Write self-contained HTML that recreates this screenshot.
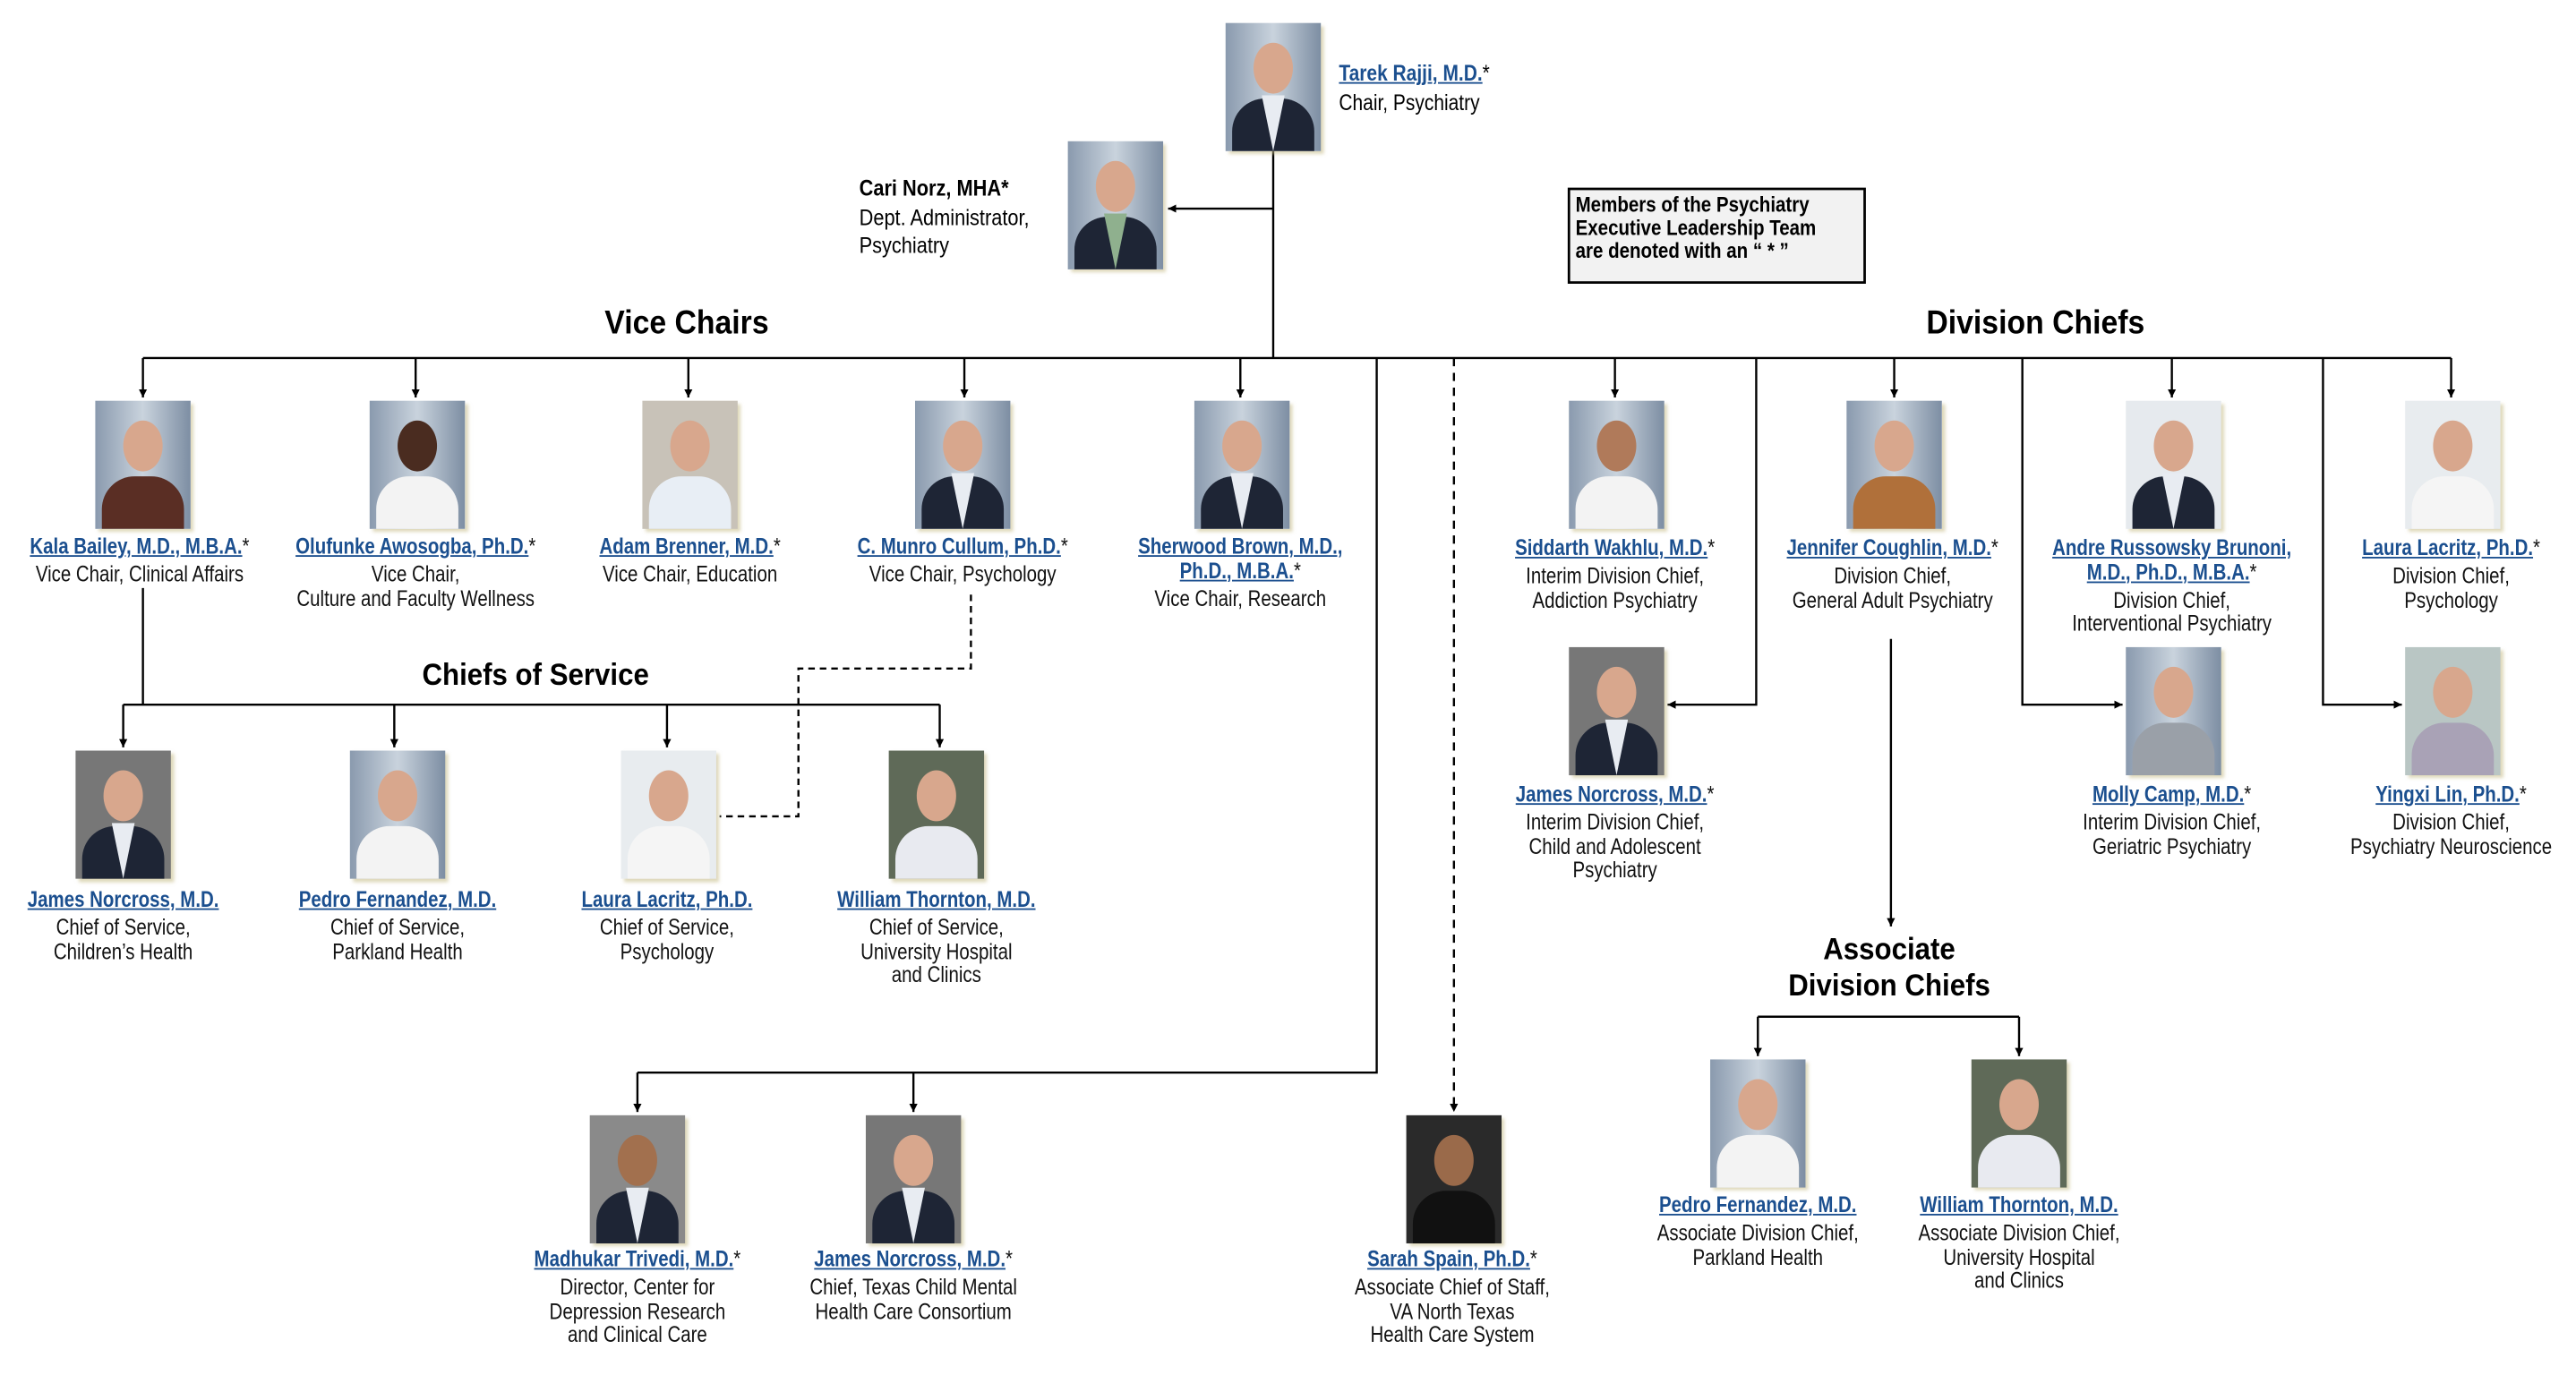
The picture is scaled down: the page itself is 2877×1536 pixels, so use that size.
<!DOCTYPE html>
<html><head><meta charset="utf-8"><style>
html,body{margin:0;padding:0;background:#fff;overflow:hidden}
#w{position:absolute;left:0;top:0;width:1568px;height:837px;transform:scale(1.83482);transform-origin:0 0;font-family:"Liberation Sans",Arial,sans-serif}
svg{position:absolute;left:0;top:0}
.p{position:absolute;width:58px;height:78px;overflow:hidden;box-shadow:2px 2px 2px rgba(200,190,140,.6);background:linear-gradient(90deg,#8a9aae,#c9d3dd 50%,#7d8ea3)}
.p .h{position:absolute;left:17px;top:12px;width:24px;height:31px;border-radius:50%;background:#d8a78d}
.p .b{position:absolute;left:4px;top:46px;width:50px;height:40px;border-radius:20px 20px 0 0;background:#1e2535}
.p .s{position:absolute;left:22px;top:44px;width:14px;height:34px;background:#e8ecf2;clip-path:polygon(0 0,100% 0,50% 100%)}
.t{position:absolute;transform:translateX(-50%) scaleX(.82);white-space:nowrap;text-align:center;font-size:13.6px;line-height:14.6px;color:#111}
.n{color:#1b4f8f;font-weight:bold;text-decoration:underline}
.g{display:block;height:2.5px}
.hd{position:absolute;transform:translateX(-50%) scaleX(.92);font-weight:bold;white-space:nowrap;text-align:center;color:#000}
</style></head><body><div id="w">
<svg width="1568" height="837" viewBox="0 0 1568 837">
<defs><marker id="a" markerWidth="6" markerHeight="6" refX="5" refY="3" orient="auto" markerUnits="userSpaceOnUse"><path d="M0,0.5 L5,3 L0,5.5z" fill="#000"/></marker></defs>
<g stroke="#000" stroke-width="1.3" fill="none">
<path d="M775,92V218"/>
<path d="M775,127H711" marker-end="url(#a)"/>
<path d="M87,218H1492"/>
<path d="M87,218V242" marker-end="url(#a)"/><path d="M253,218V242" marker-end="url(#a)"/><path d="M419,218V242" marker-end="url(#a)"/><path d="M587,218V242" marker-end="url(#a)"/><path d="M755,218V242" marker-end="url(#a)"/>
<path d="M983,218V242" marker-end="url(#a)"/><path d="M1153,218V242" marker-end="url(#a)"/><path d="M1322,218V242" marker-end="url(#a)"/><path d="M1492,218V242" marker-end="url(#a)"/>
<path d="M838,218V653H388"/><path d="M388,653V677" marker-end="url(#a)"/><path d="M556,653V677" marker-end="url(#a)"/>
<path d="M885,218V677" stroke-dasharray="5,4" marker-end="url(#a)"/>
<path d="M1069,218V429H1015" marker-end="url(#a)"/>
<path d="M1231,218V429H1292" marker-end="url(#a)"/>
<path d="M1414,218V429H1462" marker-end="url(#a)"/>
<path d="M1151,389V564" marker-end="url(#a)"/>
<path d="M1070,619H1229"/><path d="M1070,619V643" marker-end="url(#a)"/><path d="M1229,619V643" marker-end="url(#a)"/>
<path d="M87,358V429"/><path d="M75,429H572"/>
<path d="M75,429V455" marker-end="url(#a)"/><path d="M240,429V455" marker-end="url(#a)"/><path d="M406,429V455" marker-end="url(#a)"/><path d="M572,429V455" marker-end="url(#a)"/>
<path d="M591,362V407H486V497H438" stroke-dasharray="4,3"/>
</g>
<rect x="955" y="115" width="180" height="57" fill="#f2f2f2" stroke="#000" stroke-width="1.5"/>
</svg>

<div style="position:absolute;left:959px;top:118px;font-size:13px;line-height:14px;font-weight:bold;transform:scaleX(.86);transform-origin:0 0;white-space:nowrap">Members of the Psychiatry<br>Executive Leadership Team<br>are denoted with an “ * ”</div>

<div class="hd" style="left:418px;top:186px;font-size:20px">Vice Chairs</div>
<div class="hd" style="left:1239px;top:186px;font-size:20px">Division Chiefs</div>
<div class="hd" style="left:326px;top:400px;font-size:18.5px">Chiefs of Service</div>
<div class="hd" style="left:1150px;top:567px;font-size:18.5px;line-height:22px">Associate<br>Division Chiefs</div>

<!-- photos -->
<div class="p" style="left:746px;top:14px"><div class="h"></div><div class="b"></div><div class="s"></div></div>
<div class="p" style="left:650px;top:86px"><div class="h"></div><div class="b"></div><div class="s" style="background:#8fb08e"></div></div>
<div class="p" style="left:58px;top:244px"><div class="h"></div><div class="b" style="background:#5a2e24"></div></div>
<div class="p" style="left:225px;top:244px"><div class="h" style="background:#4a2c20"></div><div class="b" style="background:#f3f3f3"></div></div>
<div class="p" style="left:391px;top:244px;background:#c8c2b8"><div class="h"></div><div class="b" style="background:#e8eef5"></div></div>
<div class="p" style="left:557px;top:244px"><div class="h"></div><div class="b"></div><div class="s"></div></div>
<div class="p" style="left:727px;top:244px"><div class="h"></div><div class="b"></div><div class="s"></div></div>
<div class="p" style="left:955px;top:244px"><div class="h" style="background:#b07a5a"></div><div class="b" style="background:#f3f3f3"></div></div>
<div class="p" style="left:1124px;top:244px"><div class="h"></div><div class="b" style="background:#b0703a"></div></div>
<div class="p" style="left:1294px;top:244px;background:#e6eaee"><div class="h"></div><div class="b"></div><div class="s"></div></div>
<div class="p" style="left:1464px;top:244px;background:#e8ecef"><div class="h"></div><div class="b" style="background:#f5f5f5"></div></div>
<div class="p" style="left:955px;top:394px;background:#777"><div class="h"></div><div class="b"></div><div class="s"></div></div>
<div class="p" style="left:1294px;top:394px"><div class="h"></div><div class="b" style="background:#9aa0a8"></div></div>
<div class="p" style="left:1464px;top:394px;background:#b9c6c4"><div class="h"></div><div class="b" style="background:#a9a2b6"></div></div>
<div class="p" style="left:46px;top:457px;background:#777"><div class="h"></div><div class="b"></div><div class="s"></div></div>
<div class="p" style="left:213px;top:457px"><div class="h"></div><div class="b" style="background:#f3f3f3"></div></div>
<div class="p" style="left:378px;top:457px;background:#e8ecef"><div class="h"></div><div class="b" style="background:#f5f5f5"></div></div>
<div class="p" style="left:541px;top:457px;background:#5f6a58"><div class="h"></div><div class="b" style="background:#e8eaf0"></div></div>
<div class="p" style="left:359px;top:679px;background:#8a8a8a"><div class="h" style="background:#a2704e"></div><div class="b"></div><div class="s"></div></div>
<div class="p" style="left:527px;top:679px;background:#777"><div class="h"></div><div class="b"></div><div class="s"></div></div>
<div class="p" style="left:856px;top:679px;background:#2a2a2a"><div class="h" style="background:#9a6a4a"></div><div class="b" style="background:#111"></div></div>
<div class="p" style="left:1041px;top:645px"><div class="h"></div><div class="b" style="background:#f3f3f3"></div></div>
<div class="p" style="left:1200px;top:645px;background:#5f6a58"><div class="h"></div><div class="b" style="background:#e8eaf0"></div></div>

<!-- text -->
<div style="position:absolute;left:815px;top:36px;font-size:13.6px;line-height:17.5px;transform:scaleX(.84);transform-origin:0 0;white-space:nowrap"><span class="n">Tarek Rajji, M.D.</span>*<br>Chair, Psychiatry</div>
<div style="position:absolute;left:523px;top:106px;font-size:13.8px;line-height:17.5px;transform:scaleX(.86);transform-origin:0 0;white-space:nowrap"><b>Cari Norz, MHA*</b><br>Dept. Administrator,<br>Psychiatry</div>

<div class="t" style="left:85px;top:326px"><span class="n">Kala Bailey, M.D., M.B.A.</span>*<span class="g"></span>Vice Chair, Clinical Affairs</div>
<div class="t" style="left:253px;top:326px"><span class="n">Olufunke Awosogba, Ph.D.</span>*<span class="g"></span>Vice Chair,<br>Culture and Faculty Wellness</div>
<div class="t" style="left:420px;top:326px"><span class="n">Adam Brenner, M.D.</span>*<span class="g"></span>Vice Chair, Education</div>
<div class="t" style="left:586px;top:326px"><span class="n">C. Munro Cullum, Ph.D.</span>*<span class="g"></span>Vice Chair, Psychology</div>
<div class="t" style="left:755px;top:326px"><span class="n">Sherwood Brown, M.D.,</span><br><span class="n">Ph.D., M.B.A.</span>*<span class="g"></span>Vice Chair, Research</div>

<div class="t" style="left:983px;top:327px"><span class="n">Siddarth Wakhlu, M.D.</span>*<span class="g"></span>Interim Division Chief,<br>Addiction Psychiatry</div>
<div class="t" style="left:1152px;top:327px"><span class="n">Jennifer Coughlin, M.D.</span>*<span class="g"></span>Division Chief,<br>General Adult Psychiatry</div>
<div class="t" style="left:1322px;top:327px"><span class="n">Andre Russowsky Brunoni,</span><br><span class="n">M.D., Ph.D., M.B.A.</span>*<span class="g"></span>Division Chief,<br>Interventional Psychiatry</div>
<div class="t" style="left:1492px;top:327px"><span class="n">Laura Lacritz, Ph.D.</span>*<span class="g"></span>Division Chief,<br>Psychology</div>

<div class="t" style="left:983px;top:477px"><span class="n">James Norcross, M.D.</span>*<span class="g"></span>Interim Division Chief,<br>Child and Adolescent<br>Psychiatry</div>
<div class="t" style="left:1322px;top:477px"><span class="n">Molly Camp, M.D.</span>*<span class="g"></span>Interim Division Chief,<br>Geriatric Psychiatry</div>
<div class="t" style="left:1492px;top:477px"><span class="n">Yingxi Lin, Ph.D.</span>*<span class="g"></span>Division Chief,<br>Psychiatry Neuroscience</div>

<div class="t" style="left:75px;top:541px"><span class="n">James Norcross, M.D.</span><span class="g"></span>Chief of Service,<br>Children’s Health</div>
<div class="t" style="left:242px;top:541px"><span class="n">Pedro Fernandez, M.D.</span><span class="g"></span>Chief of Service,<br>Parkland Health</div>
<div class="t" style="left:406px;top:541px"><span class="n">Laura Lacritz, Ph.D.</span><span class="g"></span>Chief of Service,<br>Psychology</div>
<div class="t" style="left:570px;top:541px"><span class="n">William Thornton, M.D.</span><span class="g"></span>Chief of Service,<br>University Hospital<br>and Clinics</div>

<div class="t" style="left:388px;top:760px"><span class="n">Madhukar Trivedi, M.D.</span>*<span class="g"></span>Director, Center for<br>Depression Research<br>and Clinical Care</div>
<div class="t" style="left:556px;top:760px"><span class="n">James Norcross, M.D.</span>*<span class="g"></span>Chief, Texas Child Mental<br>Health Care Consortium</div>
<div class="t" style="left:884px;top:760px"><span class="n">Sarah Spain, Ph.D.</span>*<span class="g"></span>Associate Chief of Staff,<br>VA North Texas<br>Health Care System</div>

<div class="t" style="left:1070px;top:727px"><span class="n">Pedro Fernandez, M.D.</span><span class="g"></span>Associate Division Chief,<br>Parkland Health</div>
<div class="t" style="left:1229px;top:727px"><span class="n">William Thornton, M.D.</span><span class="g"></span>Associate Division Chief,<br>University Hospital<br>and Clinics</div>
</div></body></html>
